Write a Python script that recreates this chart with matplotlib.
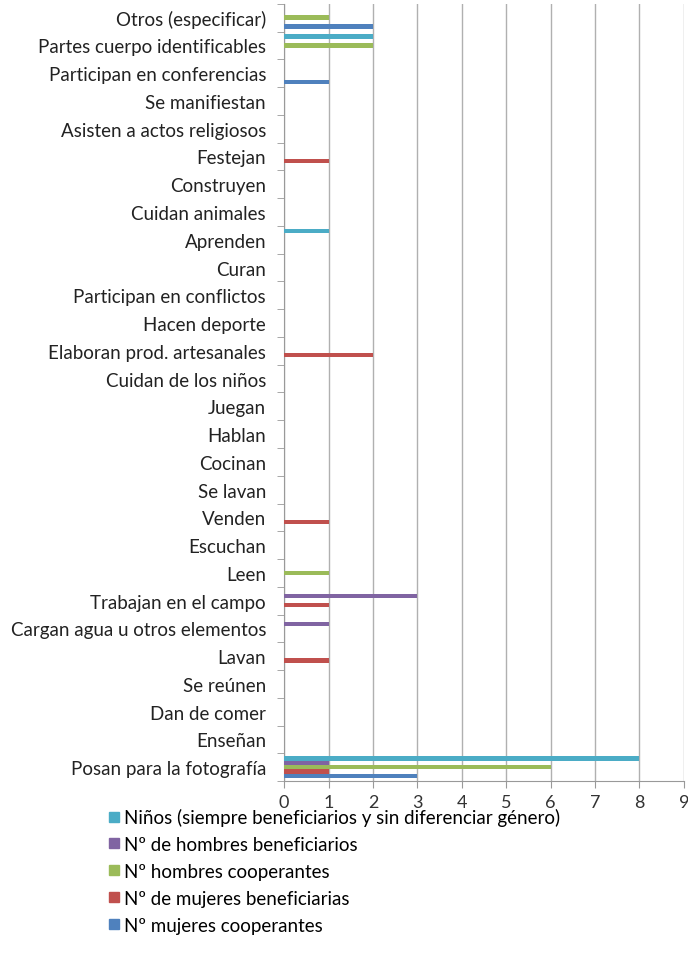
import numpy as np
import matplotlib
matplotlib.use("Agg")
import matplotlib.pyplot as plt
from matplotlib.lines import Line2D

plt.rcParams['font.family'] = ['Lato', 'DejaVu Sans']

categories = [
    "Posan para la fotografía", "Enseñan", "Dan de comer", "Se reúnen", "Lavan",
    "Cargan agua u otros elementos", "Trabajan en el campo", "Leen", "Escuchan",
    "Venden", "Se lavan", "Cocinan", "Hablan", "Juegan", "Cuidan de los niños",
    "Elaboran prod. artesanales", "Hacen deporte", "Participan en conflictos",
    "Curan", "Aprenden", "Cuidan animales", "Construyen", "Festejan",
    "Asisten a actos religiosos", "Se manifiestan", "Participan en conferencias",
    "Partes cuerpo identificables", "Otros (especificar)",
]

# values per category, same order as categories (bottom to top)
ninos = [8, 0, 0, 0, 0, 0, 0, 0, 0, 0, 0, 0, 0, 0, 0, 0, 0, 0, 0, 1, 0, 0, 0, 0, 0, 0, 2, 0]
hombres_benef = [1, 0, 0, 0, 0, 1, 3, 0, 0, 0, 0, 0, 0, 0, 0, 0, 0, 0, 0, 0, 0, 0, 0, 0, 0, 0, 0, 0]
hombres_coop = [6, 0, 0, 0, 0, 0, 0, 1, 0, 0, 0, 0, 0, 0, 0, 0, 0, 0, 0, 0, 0, 0, 0, 0, 0, 0, 2, 1]
mujeres_benef = [1, 0, 0, 0, 1, 0, 1, 0, 0, 1, 0, 0, 0, 0, 0, 2, 0, 0, 0, 0, 0, 0, 1, 0, 0, 0, 0, 0]
mujeres_coop = [3, 0, 0, 0, 0, 0, 0, 0, 0, 0, 0, 0, 0, 0, 0, 0, 0, 0, 0, 0, 0, 0, 0, 0, 0, 1, 0, 2]

series = [
    ("Niños (siempre beneficiarios y sin diferenciar género)", ninos, "#4BACC6"),
    ("Nº de hombres beneficiarios", hombres_benef, "#8064A2"),
    ("Nº hombres cooperantes", hombres_coop, "#9BBB59"),
    ("Nº de mujeres beneficiarias", mujeres_benef, "#C0504D"),
    ("Nº mujeres cooperantes", mujeres_coop, "#4F81BD"),
]

fig = plt.figure(figsize=(6.88, 9.62), dpi=100)
ax = fig.add_axes([0.413, 0.187, 0.581, 0.808])

y = np.arange(len(categories))
h = 0.16
for i, (name, vals, color) in enumerate(series):
    offset = (2 - i) * h  # first series on top of each group
    ax.barh(y + offset, vals, height=h, color=color, zorder=3)

ax.set_xlim(0, 9)
ax.set_ylim(-0.5, len(categories) - 0.5)
ax.set_xticks(range(10))
ax.grid(axis='x', color='#b0b0b0', linewidth=1, zorder=0)

ax.set_yticks(y)
ax.set_yticklabels(categories, fontsize=13.5, color='#222222')
ax.set_yticks(np.arange(-0.5, len(categories)), minor=True)
ax.tick_params(axis='y', which='major', length=0, pad=13)
ax.tick_params(axis='y', which='minor', length=5, color='#999999')
ax.tick_params(axis='x', length=5, color='#999999', labelsize=13,
               labelcolor='#333333', pad=4)

for side in ['top', 'right']:
    ax.spines[side].set_visible(False)
ax.spines['left'].set_color('#999999')
ax.spines['bottom'].set_color('#999999')

handles = [Line2D([], [], marker='s', linestyle='', markersize=7,
                  markerfacecolor=c, markeredgecolor=c) for _, _, c in series]
labels = [name for name, _, _ in series]
fig.legend(handles, labels, loc='upper left', bbox_to_anchor=(0.155, 0.159),
           frameon=False, fontsize=13.5, handletextpad=0.15, labelspacing=0.53,
           handlelength=0.8, borderaxespad=0, borderpad=0)

fig.savefig("out.png", dpi=100, facecolor='white')
